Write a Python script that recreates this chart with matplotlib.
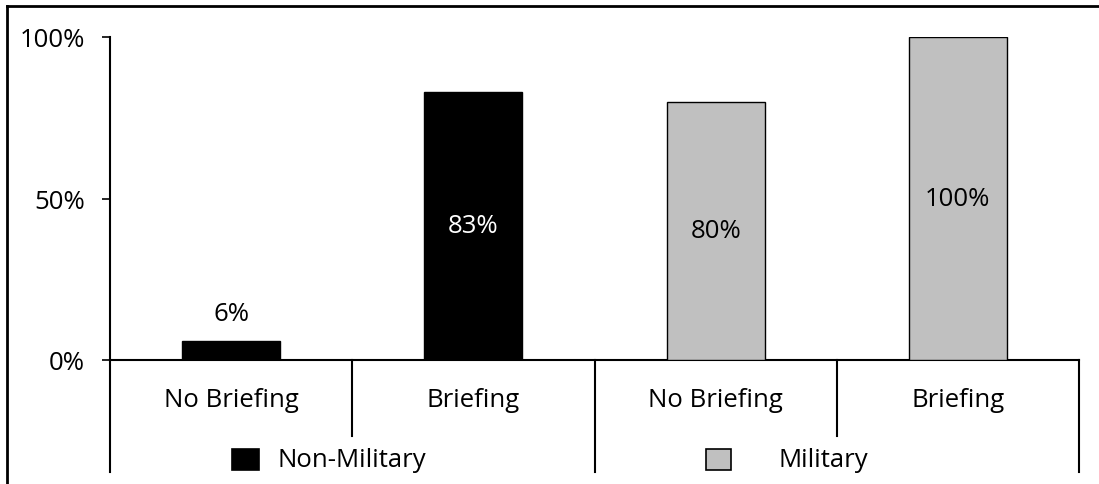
import matplotlib.pyplot as plt
from matplotlib.patches import Rectangle
import numpy as np

plt.rcParams['font.family'] = ['Open Sans', 'DejaVu Sans']

# data
groups = ['Non-Military', 'Military']
conditions = ['No Briefing', 'Briefing', 'No Briefing', 'Briefing']
values = [6, 83, 80, 100]          # percent
labels = ['6%', '83%', '80%', '100%']
group_colors = ['black', '#c0c0c0']
bar_group = [0, 0, 1, 1]

FS = 18.5
W, H = 1099, 485
fig = plt.figure(figsize=(W / 100, H / 100), dpi=100)
ax = fig.add_axes([110 / W, (H - 361) / H, (1079 - 110) / W, (361 - 38) / H])

x = np.arange(len(values)) + 0.5
cols = [group_colors[g] for g in bar_group]
ax.bar(x, np.array(values) / 100, width=0.405, color=cols, edgecolor='black', linewidth=1.0, zorder=3)

# value labels
for xi, v, lab, g in zip(x, values, labels, bar_group):
    if v < 20:
        ax.text(xi, v / 100 + 0.085, lab, ha='center', va='center', fontsize=FS, color='black')
    else:
        ax.text(xi, v / 200, lab, ha='center', va='center', fontsize=FS,
                color='white' if g == 0 else 'black')

ax.set_xlim(0, 4)
ax.set_ylim(0, 1.0)
ax.set_yticks([0, 0.5, 1.0])
ax.set_yticklabels(['0%', '50%', '100%'], fontsize=FS)
ax.tick_params(axis='y', direction='out', length=6, width=1.2, pad=12)
ax.set_xticks([])
for s in ['top', 'right']:
    ax.spines[s].set_visible(False)
ax.spines['left'].set_linewidth(1.5)
ax.spines['bottom'].set_linewidth(1.5)

# multi-level category axis
tr = ax.get_xaxis_transform()
for xs in [0, 2, 4]:
    ax.plot([xs, xs], [0, -0.347], transform=tr, color='black', lw=1.5, clip_on=False)
for xs in [1, 3]:
    ax.plot([xs, xs], [0, -0.235], transform=tr, color='black', lw=1.5, clip_on=False)
for xi, c in zip(x, conditions):
    ax.text(xi, -0.121, c, transform=tr, ha='center', va='center', fontsize=FS)

# group labels with legend keys
key_x = [0.504, 2.459]
key_w = [0.112, 0.103]
text_x = [0.69, 2.76]
for g, name in enumerate(groups):
    ax.add_patch(Rectangle((key_x[g], -0.34), key_w[g], 0.066, transform=tr,
                           facecolor=group_colors[g], edgecolor='black', lw=1.2, clip_on=False))
    ax.text(text_x[g], -0.307, name, transform=tr, ha='left', va='center', fontsize=FS)

# outer frame (left and top visible)
fig.add_artist(plt.Line2D([7 / W, 7 / W], [0, 1 - 7 / H], color='black', lw=2, transform=fig.transFigure))
fig.add_artist(plt.Line2D([7 / W, 1], [1 - 7 / H, 1 - 7 / H], color='black', lw=2, transform=fig.transFigure))

fig.savefig('out.png', dpi=100)
